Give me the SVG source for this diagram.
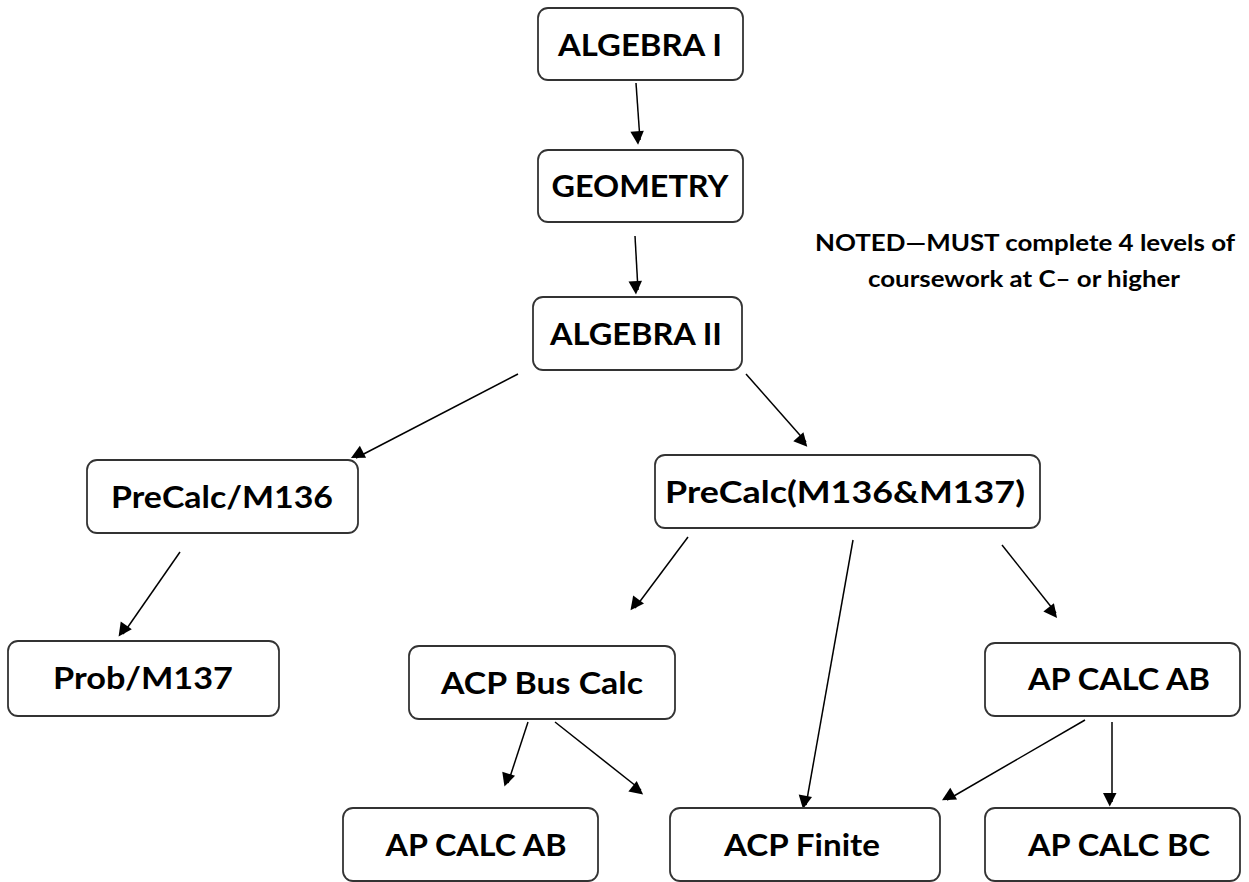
<svg xmlns="http://www.w3.org/2000/svg" width="1249" height="882" viewBox="0 0 1249 882">
<defs>
<style>
.box{fill:#fff;stroke:#333;stroke-width:1.8}
.lbl{font-family:Lato,"Open Sans","Liberation Sans",sans-serif;font-weight:bold;font-size:30px;fill:#000;text-anchor:middle}
.note{font-family:Lato,"Open Sans","Liberation Sans",sans-serif;font-weight:bold;font-size:22px;fill:#000;text-anchor:middle}
.con line{stroke:#000;stroke-width:1.5;marker-end:url(#ah)}
</style>
<marker id="ah" viewBox="0 0 10 10" refX="10" refY="5" markerWidth="10" markerHeight="9" markerUnits="userSpaceOnUse" orient="auto" overflow="visible">
<path d="M0,0 L10,5 L0,10 z" fill="#000" transform="scale(1.5)"/>
</marker>
</defs>
<rect width="1249" height="882" fill="#fff"/>
<g id="connectors" class="con">
<line x1="636" y1="83" x2="640" y2="140"/>
<line x1="635" y1="236" x2="638" y2="290"/>
<line x1="518" y1="374" x2="356" y2="458"/>
<line x1="746" y1="374" x2="806" y2="442"/>
<line x1="180" y1="552" x2="123" y2="634"/>
<line x1="688" y1="537" x2="635" y2="608"/>
<line x1="853" y1="540" x2="806" y2="805"/>
<line x1="1002" y1="545" x2="1056" y2="613"/>
<line x1="528" y1="722" x2="508" y2="783"/>
<line x1="555" y1="722" x2="641" y2="790"/>
<line x1="1085" y1="720" x2="947" y2="800"/>
<line x1="1112" y1="722" x2="1112" y2="802"/>
</g>
<g id="n-algebra1"><rect class="box" x="538" y="8" width="205" height="72" rx="10"/><text class="lbl" x="640" y="56" textLength="164" lengthAdjust="spacingAndGlyphs">ALGEBRA I</text></g>
<g id="n-geometry"><rect class="box" x="538" y="150" width="205" height="72" rx="10"/><text class="lbl" x="640" y="197" textLength="177" lengthAdjust="spacingAndGlyphs">GEOMETRY</text></g>
<g id="n-algebra2"><rect class="box" x="533" y="297" width="209" height="73" rx="10"/><text class="lbl" x="636" y="345" textLength="172" lengthAdjust="spacingAndGlyphs">ALGEBRA II</text></g>
<g id="n-precalc136"><rect class="box" x="87" y="460" width="271" height="73" rx="10"/><text class="lbl" x="222" y="508" textLength="222" lengthAdjust="spacingAndGlyphs">PreCalc/M136</text></g>
<g id="n-precalc136137"><rect class="box" x="655" y="455" width="385" height="73" rx="10"/><text class="lbl" x="845" y="503" textLength="360" lengthAdjust="spacingAndGlyphs">PreCalc(M136&amp;M137)</text></g>
<g id="n-prob137"><rect class="box" x="8" y="641" width="271" height="75" rx="10"/><text class="lbl" x="143" y="689" textLength="180" lengthAdjust="spacingAndGlyphs">Prob/M137</text></g>
<g id="n-acpbuscalc"><rect class="box" x="409" y="646" width="266" height="73" rx="10"/><text class="lbl" x="542" y="694" textLength="202" lengthAdjust="spacingAndGlyphs">ACP Bus Calc</text></g>
<g id="n-apcalcab-right"><rect class="box" x="985" y="643" width="255" height="73" rx="10"/><text class="lbl" x="1119" y="690" textLength="182" lengthAdjust="spacingAndGlyphs">AP CALC AB</text></g>
<g id="n-apcalcab-left"><rect class="box" x="343" y="808" width="255" height="73" rx="10"/><text class="lbl" x="476" y="856" textLength="181" lengthAdjust="spacingAndGlyphs">AP CALC AB</text></g>
<g id="n-acpfinite"><rect class="box" x="670" y="808" width="270" height="73" rx="10"/><text class="lbl" x="802" y="856" textLength="156" lengthAdjust="spacingAndGlyphs">ACP Finite</text></g>
<g id="n-apcalcbc"><rect class="box" x="985" y="808" width="255" height="73" rx="10"/><text class="lbl" x="1119" y="856" textLength="182" lengthAdjust="spacingAndGlyphs">AP CALC BC</text></g>
<g id="note">
<text class="note" x="1025" y="251" textLength="420" lengthAdjust="spacingAndGlyphs">NOTED—MUST complete 4 levels of</text>
<text class="note" x="1024" y="287" textLength="312" lengthAdjust="spacingAndGlyphs">coursework at C– or higher</text>
</g>
</svg>
